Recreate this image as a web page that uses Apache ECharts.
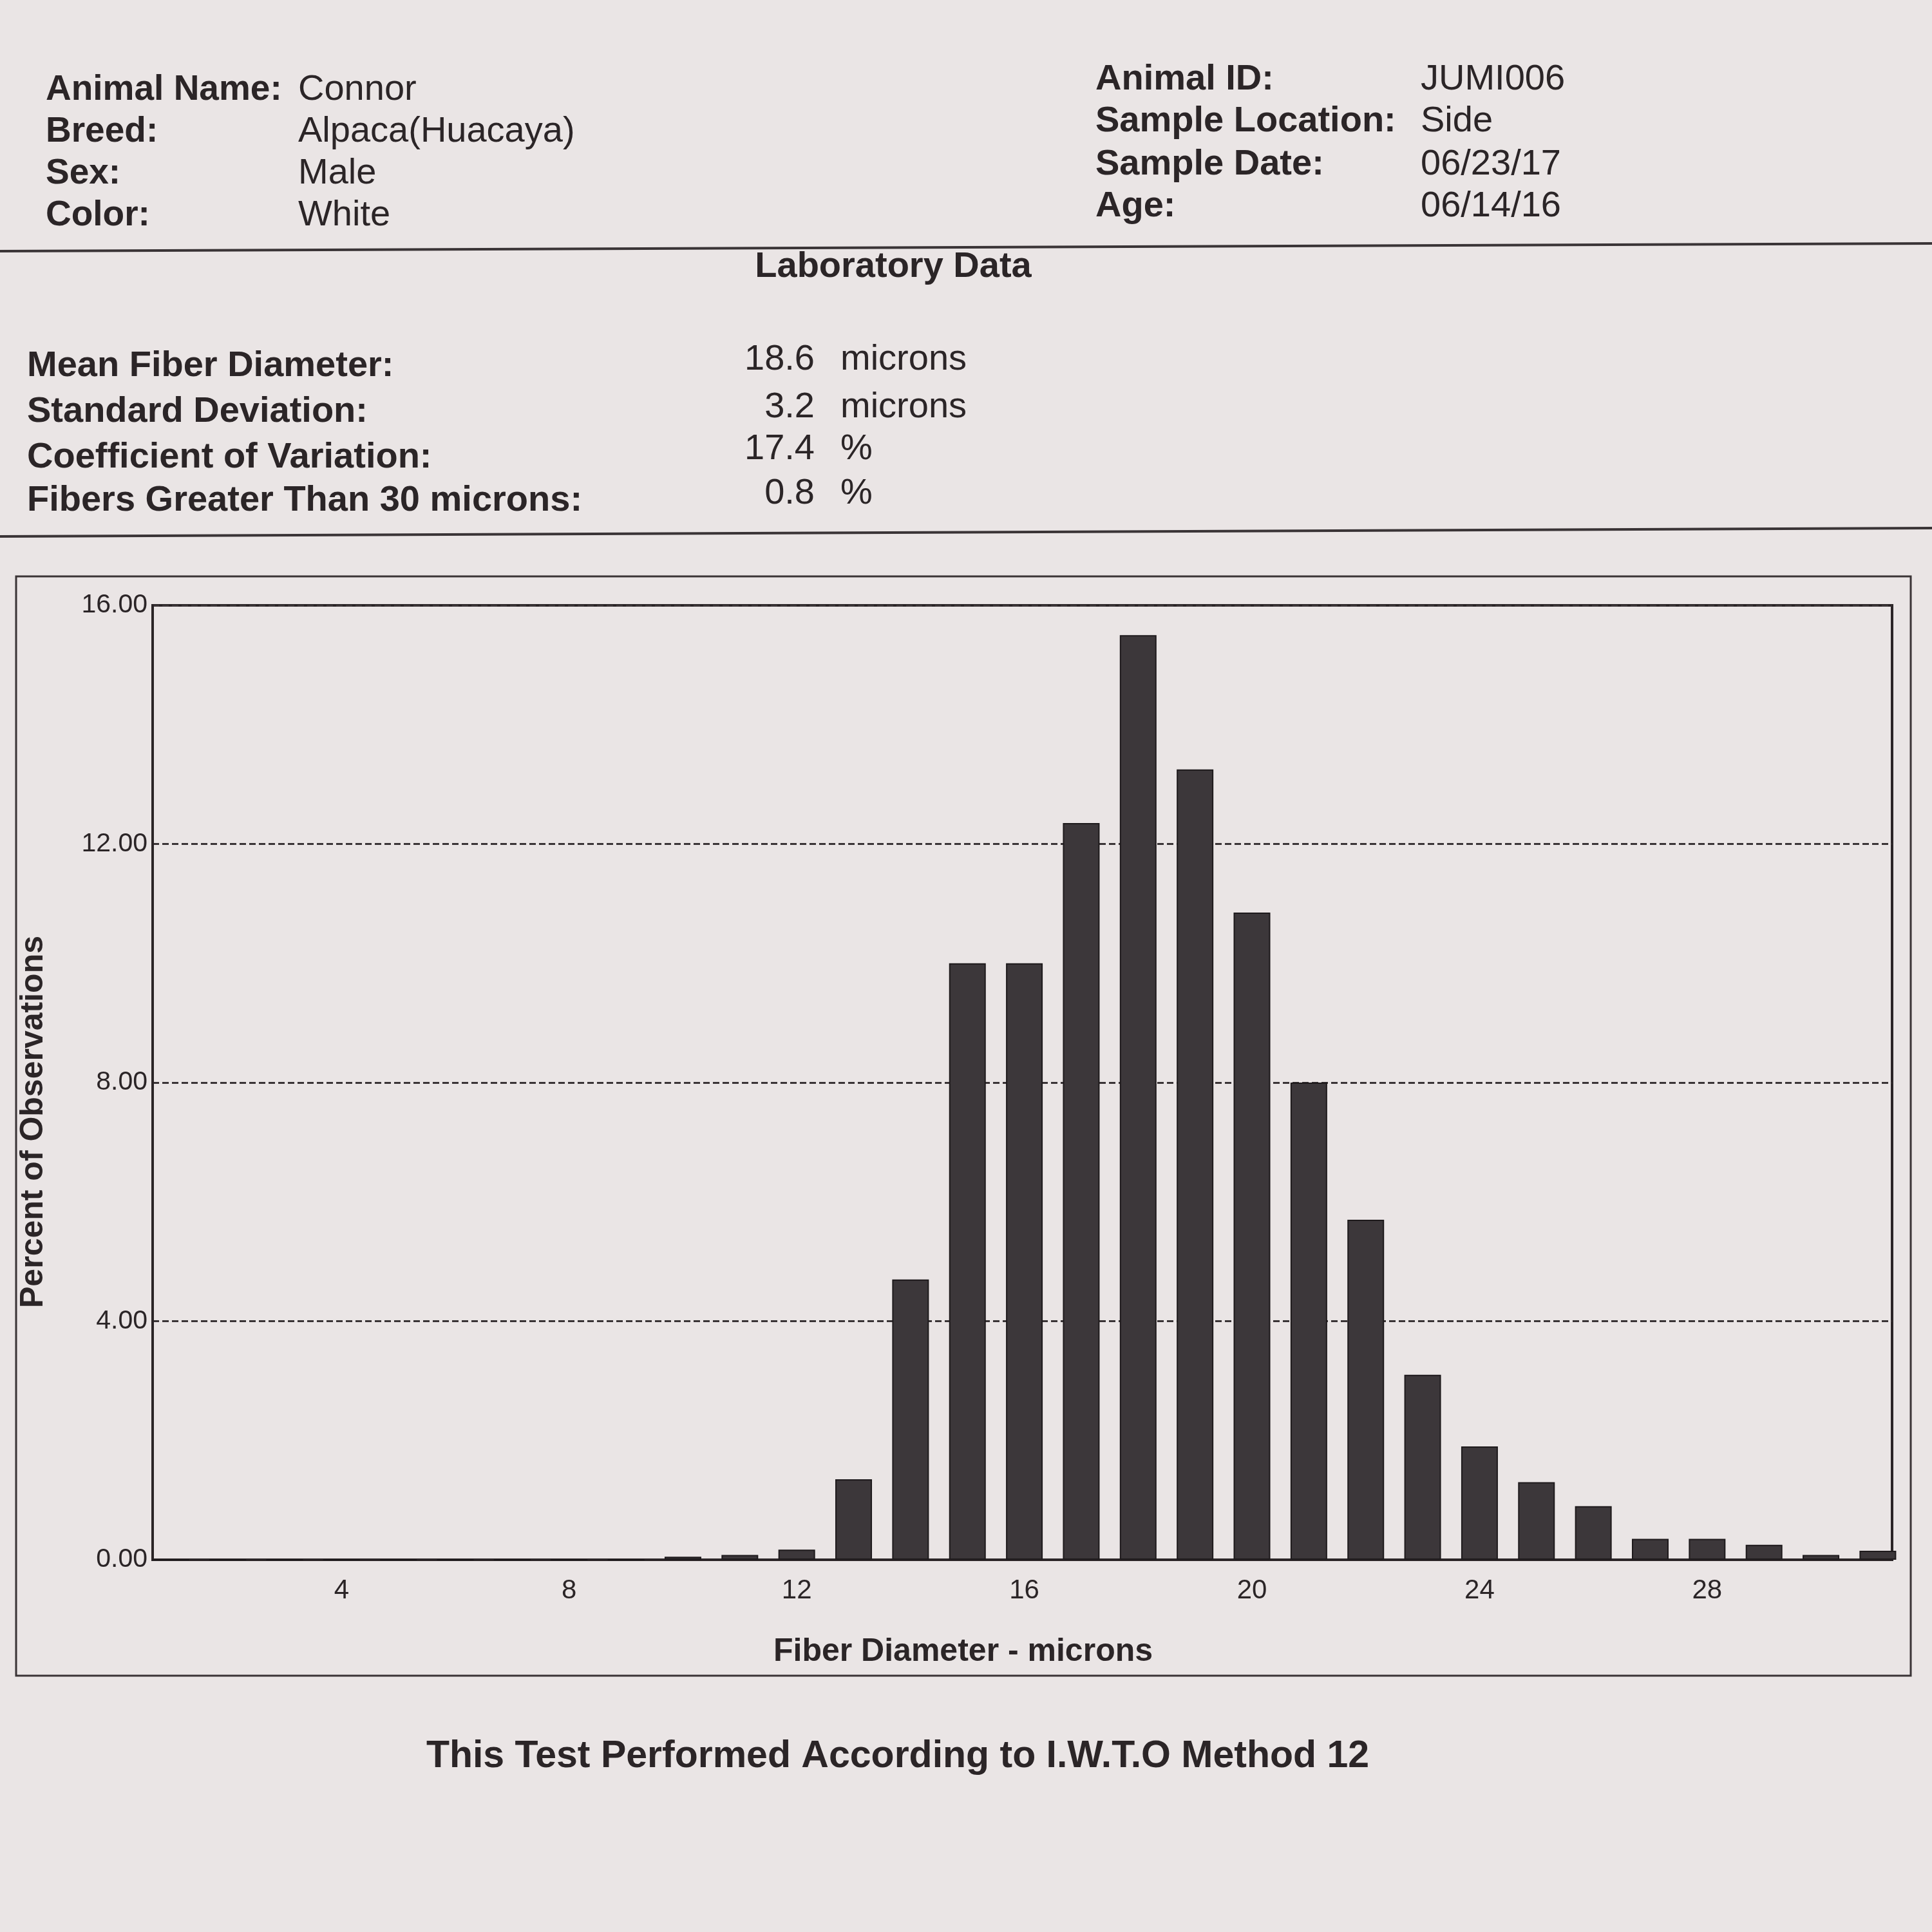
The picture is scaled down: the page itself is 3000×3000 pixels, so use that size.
<!DOCTYPE html>
<html>
<head>
<meta charset="utf-8">
<script src="https://cdn.jsdelivr.net/npm/echarts@6/dist/echarts.min.js"></script>
<style>
  html, body { margin: 0; padding: 0; background: #eae5e5; }
  #chart { width: 3000px; height: 3000px; }
</style>
</head>
<body>
<div id="chart"></div>
<script>
// fiber diameter classes (microns) and percent of observations
var diameters = [1, 2, 3, 4, 5, 6, 7, 8, 9, 10, 11, 12, 13, 14, 15, 16,
	17, 18, 19, 20, 21, 22, 23, 24, 25, 26, 27, 28, 29, 30, 31];
var percents = [0, 0, 0, 0, 0, 0, 0, 0, 0, 0.05, 0.08, 0.17, 1.35, 4.7, 10.0, 10.0,
	12.35, 15.5, 13.25, 10.85, 8.0, 5.7, 3.1, 1.9, 1.3, 0.9, 0.35, 0.35, 0.25, 0.08, 0.15];
var xTicks = [4, 8, 12, 16, 20, 24, 28];
var yTicks = [0, 4, 8, 12, 16];

// report header
var leftLabels = ['Animal Name:', 'Breed:', 'Sex:', 'Color:'];
var leftValues = ['Connor', 'Alpaca(Huacaya)', 'Male', 'White'];
var rightLabels = ['Animal ID:', 'Sample Location:', 'Sample Date:', 'Age:'];
var rightValues = ['JUMI006', 'Side', '06/23/17', '06/14/16'];

// laboratory data
var labLabels = ['Mean Fiber Diameter:', 'Standard Deviation:', 'Coefficient of Variation:', 'Fibers Greater Than 30 microns:'];
var labValues = ['18.6', '3.2', '17.4', '0.8'];
var labUnits = ['microns', 'microns', '%', '%'];

var INK = '#2b2527';
var FONT = '"Liberation Sans", Arial, sans-serif';

function txt(x, y, s, size, bold, align) {
	return {
		type : 'text',
		x : x,
		y : y,
		z : 10,
		style : {
			text : s,
			fill : INK,
			fontFamily : FONT,
			fontSize : size,
			fontWeight : bold ? 'bold' : 'normal',
			align : align || 'left',
			verticalAlign : 'middle'
		}
	};
}

function hline(x1, y1, x2, y2, w) {
	return {
		type : 'line',
		z : 5,
		shape : { x1 : x1, y1 : y1, x2 : x2, y2 : y2 },
		style : { stroke : '#3a3436', lineWidth : w }
	};
}

var graphics = [];
var leftY = [140, 205, 270, 335];
var rightY = [124, 189, 256, 321];
var labY = [569, 640, 711, 778];
var labValY = [559, 633, 698, 767];
for (var i = 0; i < leftLabels.length; i++) {
	graphics.push(txt(71, leftY[i], leftLabels[i], 55, true));
	graphics.push(txt(463, leftY[i], leftValues[i], 56, false));
}
for (var i = 0; i < rightLabels.length; i++) {
	graphics.push(txt(1701, rightY[i], rightLabels[i], 56, true));
	graphics.push(txt(2206, rightY[i], rightValues[i], 56, false));
}
graphics.push(hline(0, 390, 3000, 378, 4));
graphics.push(txt(1387, 415, 'Laboratory Data', 56, true, 'center'));
for (var i = 0; i < labLabels.length; i++) {
	graphics.push(txt(42, labY[i], labLabels[i], 56, true));
	graphics.push(txt(1265, labValY[i], labValues[i], 56, false, 'right'));
	graphics.push(txt(1305, labValY[i], labUnits[i], 56, false));
}
graphics.push(hline(0, 833, 3000, 820, 4));
// frame around the chart
graphics.push({
	type : 'rect',
	z : 5,
	shape : { x : 25, y : 895, width : 2942, height : 1707 },
	style : { fill : null, stroke : '#3a3436', lineWidth : 3 }
});
graphics.push(txt(1394, 2728, 'This Test Performed According to I.W.T.O Method 12', 59, true, 'center'));

var barData = [];
for (var i = 0; i < diameters.length; i++) {
	barData.push([diameters[i], percents[i]]);
}

var chart = echarts.init(document.getElementById('chart'), null, { renderer : 'canvas' });
var option = {
	backgroundColor : '#eae5e5',
	animation : false,
	grid : {
		left : 237,
		top : 940,
		right : 62,
		bottom : 578,
		show : true,
		borderColor : INK,
		borderWidth : 4,
		containLabel : false
	},
	xAxis : {
		type : 'value',
		min : 0.68,
		max : 31.25,
		name : 'Fiber Diameter - microns',
		nameLocation : 'middle',
		nameGap : 118,
		nameTextStyle : {
			color : INK,
			fontFamily : FONT,
			fontSize : 50,
			fontWeight : 'bold',
			padding : [0, 184, 0, 0]
		},
		axisLine : { show : true, lineStyle : { color : INK, width : 4 } },
		axisTick : { show : false },
		axisLabel : {
			customValues : xTicks,
			color : INK,
			fontFamily : FONT,
			fontSize : 42,
			margin : 27
		},
		splitLine : { show : false }
	},
	yAxis : {
		type : 'value',
		min : yTicks[0],
		max : yTicks[yTicks.length - 1],
		interval : yTicks[1] - yTicks[0],
		name : 'Percent of Observations',
		nameLocation : 'middle',
		nameRotate : 90,
		nameGap : 160,
		nameTextStyle : {
			color : INK,
			fontFamily : FONT,
			fontSize : 50,
			fontWeight : 'bold',
			padding : [0, 122, 0, 0]
		},
		axisLine : { show : true, lineStyle : { color : INK, width : 4 } },
		axisTick : { show : false },
		axisLabel : {
			formatter : function(v) { return v.toFixed(2); },
			color : INK,
			fontFamily : FONT,
			fontSize : 41,
			margin : 8
		},
		splitLine : {
			show : true,
			lineStyle : { color : '#3a3436', width : 3, type : [10, 5] }
		}
	},
	series : [ {
		name : 'Percent of Observations',
		type : 'bar',
		data : barData,
		barWidth : 57,
		clip : true,
		itemStyle : {
			color : '#3c373a',
			borderColor : '#1e1a1c',
			borderWidth : 2
		}
	} ],
	graphic : graphics
};
chart.setOption(option, true);
</script>
</body>
</html>
